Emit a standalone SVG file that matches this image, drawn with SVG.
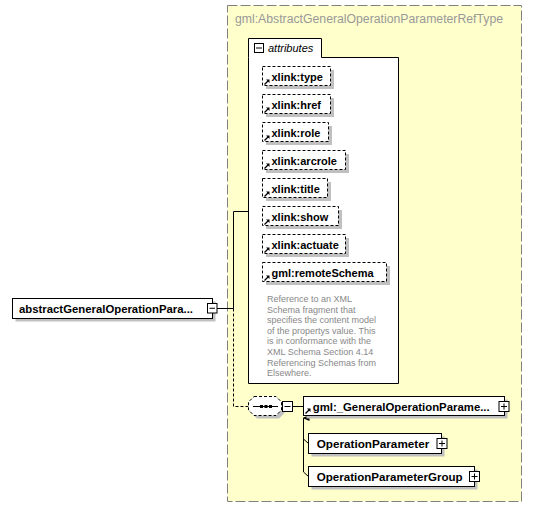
<svg xmlns="http://www.w3.org/2000/svg" width="549" height="508" viewBox="0 0 549 508">
<defs>
<style>
.b{font-family:"Liberation Sans",Arial,sans-serif;font-weight:bold;font-size:11px;fill:#000}
.d{font-family:"Liberation Sans",Arial,sans-serif;font-size:9px;fill:#888}
.box{fill:#fff;stroke:#000;stroke-width:1}
.att{fill:#fff;stroke:#000;stroke-width:1;stroke-dasharray:3 2}
.sh{fill:#c0c0c0}
.pm{fill:#fff;stroke:#000;stroke-width:1}
.ln{fill:none;stroke:#000;stroke-width:1}
.dl{fill:none;stroke:#000;stroke-width:1;stroke-dasharray:3 2}
</style>
<g id="refarrow"><path d="M0,5 L4,1" stroke="#000" stroke-width="1.2"/><path d="M1.5,0 L5,0 L5,3.5 Z" fill="#000"/></g>
<marker id="arr" markerWidth="8" markerHeight="8" refX="4" refY="1" orient="auto" markerUnits="userSpaceOnUse"><path d="M1,7 L4,0 L7,7 Z" fill="#000"/></marker>
</defs>

<g id="complexType">
<rect x="227.5" y="5.5" width="294" height="496" fill="#ffffcc" stroke="#808080" stroke-width="1" stroke-dasharray="10 3"/>
<text x="235" y="23" font-family="Liberation Sans,Arial,sans-serif" font-size="12" fill="#999" textLength="268" lengthAdjust="spacingAndGlyphs">gml:AbstractGeneralOperationParameterRefType</text>
</g>

<g id="attributes">
<path d="M248.5,57.5 V38.5 H321.5 V57.5 H398.5 V383.5 H248.5 Z" class="box"/>
<rect x="254.5" y="43.5" width="9" height="9" class="pm"/>
<path d="M256,48 H262" class="ln"/>
<text x="268" y="52" font-family="Liberation Sans,Arial,sans-serif" font-style="italic" font-size="11" fill="#000">attributes</text>
</g>

<g id="attr-type"><rect x="266" y="70" width="68" height="19" class="sh"/><rect x="262.5" y="66.5" width="68" height="19" class="att"/><use href="#refarrow" x="264.5" y="79.5"/><text x="271.5" y="80.5" class="b">xlink:type</text></g>
<g id="attr-href"><rect x="266" y="98" width="68" height="19" class="sh"/><rect x="262.5" y="94.5" width="68" height="19" class="att"/><use href="#refarrow" x="264.5" y="107.5"/><text x="271.5" y="108.5" class="b">xlink:href</text></g>
<g id="attr-role"><rect x="266" y="126" width="66" height="19" class="sh"/><rect x="262.5" y="122.5" width="66" height="19" class="att"/><use href="#refarrow" x="264.5" y="135.5"/><text x="271.5" y="136.5" class="b">xlink:role</text></g>
<g id="attr-arcrole"><rect x="266" y="154" width="83" height="19" class="sh"/><rect x="262.5" y="150.5" width="83" height="19" class="att"/><use href="#refarrow" x="264.5" y="163.5"/><text x="271.5" y="164.5" class="b">xlink:arcrole</text></g>
<g id="attr-title"><rect x="266" y="182" width="65" height="19" class="sh"/><rect x="262.5" y="178.5" width="65" height="19" class="att"/><use href="#refarrow" x="264.5" y="191.5"/><text x="271.5" y="192.5" class="b">xlink:title</text></g>
<g id="attr-show"><rect x="266" y="210" width="76" height="19" class="sh"/><rect x="262.5" y="206.5" width="76" height="19" class="att"/><use href="#refarrow" x="264.5" y="219.5"/><text x="271.5" y="220.5" class="b">xlink:show</text></g>
<g id="attr-actuate"><rect x="266" y="238" width="83" height="19" class="sh"/><rect x="262.5" y="234.5" width="83" height="19" class="att"/><use href="#refarrow" x="264.5" y="247.5"/><text x="271.5" y="248.5" class="b">xlink:actuate</text></g>
<g id="attr-remoteSchema"><rect x="266" y="266" width="124" height="19" class="sh"/><rect x="262.5" y="262.5" width="124" height="19" class="att"/><use href="#refarrow" x="264.5" y="275.5"/><text x="271.5" y="276.5" class="b">gml:remoteSchema</text>
<text class="d"><tspan x="267" y="302">Reference to an XML</tspan><tspan x="267" y="312.6">Schema fragment that</tspan><tspan x="267" y="323.2">specifies the content model</tspan><tspan x="267" y="333.8">of the propertys value. This</tspan><tspan x="267" y="344.4">is in conformance with the</tspan><tspan x="267" y="355">XML Schema Section 4.14</tspan><tspan x="267" y="365.6">Referencing Schemas from</tspan><tspan x="267" y="376.2">Elsewhere.</tspan></text>
</g>

<g id="connectors">
<path d="M217,308.5 H233.5 V211.5 H248.5" class="ln"/>
<path d="M233.5,308.5 V406.5 H248.5" class="dl"/>
<path d="M292.5,406.5 H303.5" class="ln"/>
<path d="M303.5,472 V418" class="ln" marker-end="url(#arr)"/>
<path d="M303.5,439 L308.5,443.5" class="ln"/>
<path d="M303.5,472 L308.5,476.5" class="ln"/>
</g>

<g id="root-element">
<rect x="15.5" y="301.5" width="200" height="20" class="sh"/>
<rect x="12.5" y="298.5" width="200" height="20" class="box"/>
<text x="19" y="312.5" class="b" textLength="174" lengthAdjust="spacingAndGlyphs">abstractGeneralOperationPara...</text>
<rect x="207.5" y="303.5" width="9.5" height="9.5" class="pm"/>
<path d="M209.5,308.25 H215" class="ln"/>
</g>

<g id="sequence">
<path d="M257,399.5 H279 L284.5,405 V413 L279,418.5 H257 L251.5,413 V405 Z" class="sh"/>
<path d="M254,396.5 H276 L281.5,402 V410 L276,415.5 H254 L248.5,410 V402 Z" fill="#fff" stroke="#000" stroke-dasharray="3 2"/>
<path d="M253,406.5 H278" class="ln"/>
<rect x="260" y="405" width="3" height="3" fill="#000"/>
<rect x="264.5" y="405" width="3" height="3" fill="#000"/>
<rect x="269" y="405" width="3" height="3" fill="#000"/>
<rect x="282.5" y="401.5" width="10" height="10" class="pm"/>
<path d="M284.5,406.5 H290.5" class="ln"/>
</g>

<g id="general-operation-parameter">
<rect x="306.5" y="399.5" width="201" height="19" class="sh"/>
<rect x="303.5" y="396.5" width="201" height="19" class="box"/>
<use href="#refarrow" x="305.5" y="408.5"/>
<text x="312.7" y="410.5" class="b" textLength="177" lengthAdjust="spacingAndGlyphs">gml:_GeneralOperationParame...</text>
<rect x="499" y="401.5" width="10" height="10" class="pm"/>
<path d="M501,406.5 H507 M504,403.5 V409.5" class="ln"/>
</g>

<g id="operation-parameter">
<rect x="311.5" y="436.5" width="133" height="20" class="sh"/>
<rect x="308.5" y="433.5" width="133" height="20" class="box"/>
<text x="316.7" y="447.5" class="b" textLength="112.6" lengthAdjust="spacingAndGlyphs">OperationParameter</text>
<rect x="437" y="438.5" width="10" height="10" class="pm"/>
<path d="M439,443.5 H445 M442,440.5 V446.5" class="ln"/>
</g>

<g id="operation-parameter-group">
<rect x="311.5" y="469.5" width="166" height="20" class="sh"/>
<rect x="308.5" y="466.5" width="166" height="20" class="box"/>
<text x="316.7" y="480.5" class="b" textLength="146" lengthAdjust="spacingAndGlyphs">OperationParameterGroup</text>
<rect x="469.5" y="471.5" width="10" height="10" class="pm"/>
<path d="M471.5,476.5 H477.5 M474.5,473.5 V479.5" class="ln"/>
</g>
</svg>
